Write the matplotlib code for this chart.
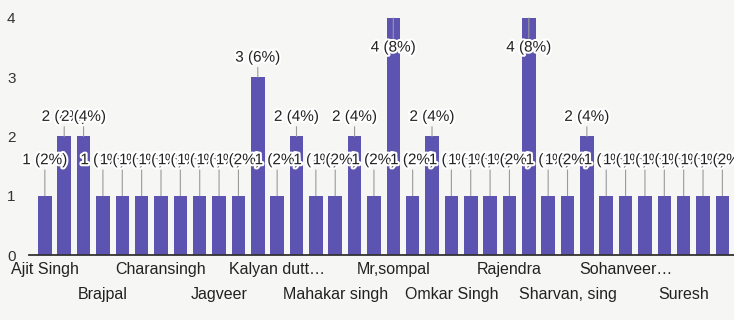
import matplotlib.pyplot as plt
import matplotlib.patheffects as pe

plt.rcParams['font.family'] = ['Liberation Sans', 'DejaVu Sans']

# responses per person (50 in total), one bar each
counts = [1, 2, 2, 1, 1, 1, 1, 1, 1, 1, 1, 3,
          1, 2, 1, 1, 2, 1, 4, 1, 2, 1, 1, 1,
          1, 4, 1, 1, 2, 1, 1, 1, 1, 1, 1, 1]

# only every third name fits on the axis
tick_labels = ['Ajit Singh', 'Brajpal', 'Charansingh', 'Jagveer',
               'Kalyan dutt\u2026', 'Mahakar singh', 'Mr,sompal', 'Omkar Singh',
               'Rajendra', 'Sharvan, sing', 'Sohanveer\u2026', 'Suresh']

bar_color = '#5d53b0'
total = sum(counts)
ymax = 4

fig = plt.figure(figsize=(7.34, 3.2), dpi=100, facecolor='#f6f6f4')
ax = fig.add_axes([0.04, 0.203, 0.96, 0.741])
ax.set_facecolor('#f6f6f4')

x = list(range(len(counts)))
ax.bar(x, counts, width=0.7, color=bar_color, zorder=2)

halo = [pe.withStroke(linewidth=3, foreground='white')]
for i, v in enumerate(counts):
    label = '{} ({}%)'.format(v, round(100 * v / total))
    if v >= ymax:
        # no room above, put the label inside the top of the bar
        ty, rel = v - 0.5, (0.5, 1.0)
    else:
        ty, rel = v + (0.6 if v == 1 else 0.33), (0.5, 0.0)
    ax.annotate(label, xy=(i, v), xytext=(i, ty), ha='center', va='center',
                fontsize=11, color='#222222', path_effects=halo, zorder=3,
                arrowprops=dict(arrowstyle='-', color='#9a9a9a', lw=0.8,
                                relpos=rel, shrinkA=0, shrinkB=0))

ax.set_xlim(-0.8, 35.6)
ax.set_ylim(0, ymax)
ax.set_yticks(range(ymax + 1))

# alternate the names on two rows
ax.set_xticks(x[0::6])
ax.set_xticklabels(tick_labels[0::2])
ax.set_xticks(x[3::6], minor=True)
ax.set_xticklabels(tick_labels[1::2], minor=True)
ax.tick_params(axis='x', which='major', length=0, pad=5, labelsize=11.5,
               labelcolor='#222222')
ax.tick_params(axis='x', which='minor', length=0, pad=23, labelsize=11.5,
               labelcolor='#222222')
ax.tick_params(axis='y', length=0, pad=10, labelsize=11, labelcolor='#333333')

for side in ['top', 'right', 'left']:
    ax.spines[side].set_visible(False)
ax.spines['bottom'].set_color('#333333')
ax.spines['bottom'].set_linewidth(1.3)
ax.spines['bottom'].set_zorder(4)

fig.savefig('out.png', dpi=100, facecolor=fig.get_facecolor())
